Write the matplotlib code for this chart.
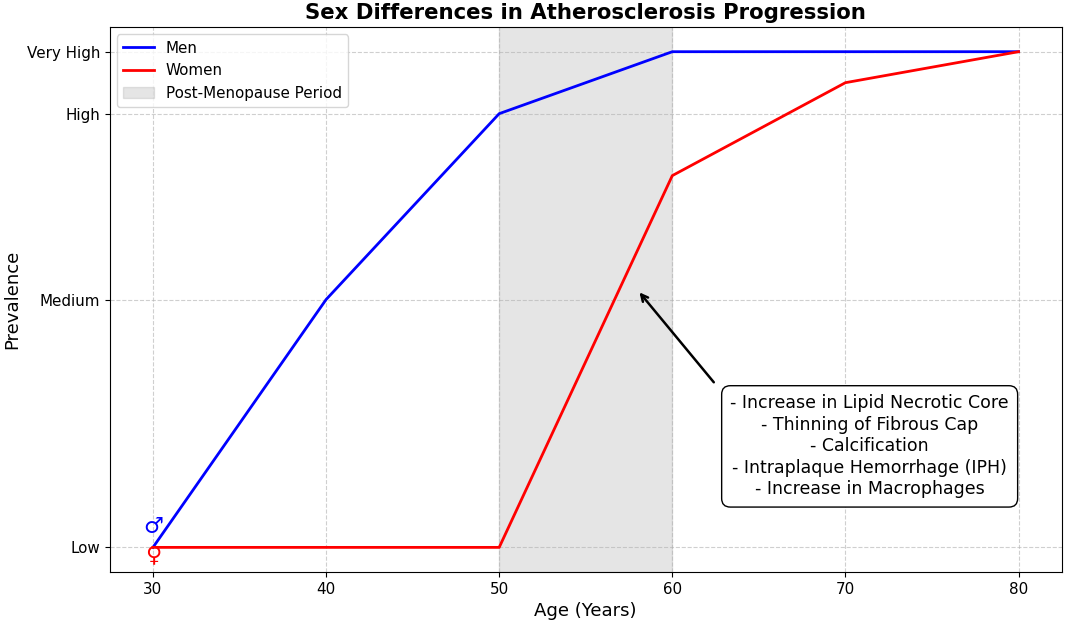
import matplotlib
matplotlib.use("Agg")
import matplotlib.pyplot as plt

ages = [30, 40, 50, 60, 70, 80]
men = [1, 5, 8, 9, 9, 9]
women = [1, 1, 1, 7, 8.5, 9]
ytick_vals = [1, 5, 8, 9]
ytick_labels = ["Low", "Medium", "High", "Very High"]
annot_text = ("- Increase in Lipid Necrotic Core\n- Thinning of Fibrous Cap\n"
              "- Calcification\n- Intraplaque Hemorrhage (IPH)\n- Increase in Macrophages")

fig, ax = plt.subplots(figsize=(10.65, 6.26), dpi=100)
ax.plot(ages, men, color="blue", lw=2.0, label="Men")
ax.plot(ages, women, color="red", lw=2.0, label="Women")
ax.axvspan(50, 60, color="gray", alpha=0.2, label="Post-Menopause Period")

ax.text(30, 1.33, "\u2642", color="blue", fontsize=16, ha="center", va="center")
ax.text(30, 0.88, "\u2640", color="red", fontsize=16, ha="center", va="center")

ax.annotate("", xy=(58, 5.15), xytext=(62.5, 3.63),
            arrowprops=dict(arrowstyle="->", color="black", lw=1.8, mutation_scale=12))
ax.text(71.4, 2.63, annot_text, fontsize=12.5, ha="center", va="center", linespacing=1.25,
        bbox=dict(boxstyle="round,pad=0.5", fc="white", ec="black"))

ax.set_yticks(ytick_vals)
ax.set_yticklabels(ytick_labels)
ax.tick_params(labelsize=10.9)
ax.set_xlabel("Age (Years)", fontsize=13.1)
ax.set_ylabel("Prevalence", fontsize=13.1)
ax.set_title("Sex Differences in Atherosclerosis Progression", fontsize=15.3, fontweight="bold")
ax.grid(True, linestyle="--", alpha=0.6)
ax.legend(loc="upper left", fontsize=10.9)
fig.subplots_adjust(left=0.103, right=0.997, top=0.957, bottom=0.086)
fig.savefig("out.png")
